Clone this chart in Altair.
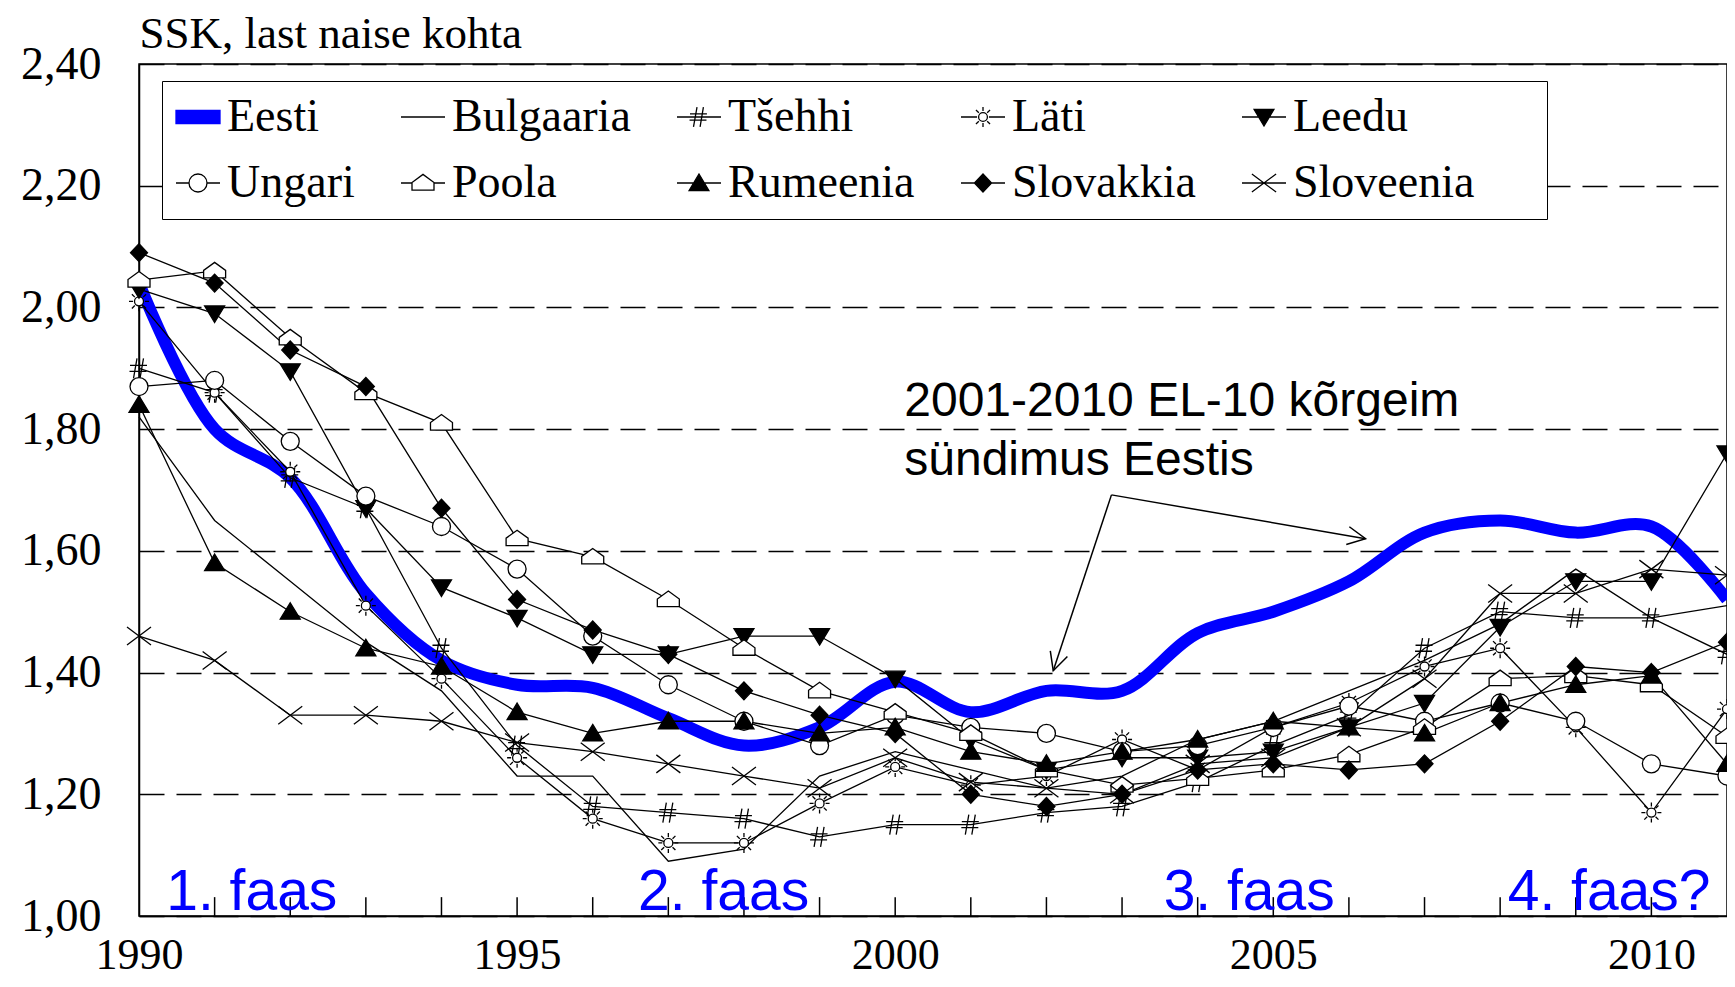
import altair as alt
import pandas as pd

years = list(range(1990, 2012))
series_names = ["Eesti", "Bulgaaria", "Tšehhi", "Läti", "Leedu",
                "Ungari", "Poola", "Rumeenia", "Slovakkia", "Sloveenia"]

eesti = [2.04, 1.80, 1.72, 1.53, 1.42, 1.38, 1.375, 1.325, 1.28, 1.31, 1.385,
         1.335, 1.37, 1.37, 1.465, 1.50, 1.55, 1.63, 1.65, 1.63, 1.64, 1.52]
bulgaaria = [1.82, 1.65, 1.55, 1.45, 1.37, 1.23, 1.23, 1.09, 1.11, 1.23, 1.27,
             1.24, 1.21, 1.23, 1.29, 1.32, 1.37, 1.42, 1.48, 1.57, 1.49, 1.51]
tsehhi = [1.90, 1.86, 1.72, 1.67, 1.44, 1.28, 1.18, 1.17, 1.16, 1.13, 1.15,
          1.15, 1.17, 1.18, 1.22, 1.28, 1.33, 1.44, 1.50, 1.49, 1.49, 1.43]
lati = [2.01, 1.86, 1.73, 1.51, 1.39, 1.26, 1.16, 1.12, 1.12, 1.185, 1.245,
        1.215, 1.23, 1.29, 1.24, 1.31, 1.35, 1.41, 1.44, 1.31, 1.17, 1.34]
leedu = [2.03, 1.99, 1.895, 1.67, 1.54, 1.49, 1.43, 1.43, 1.46, 1.46, 1.39,
         1.29, 1.24, 1.26, 1.26, 1.27, 1.31, 1.35, 1.475, 1.55, 1.55, 1.76]
ungari = [1.87, 1.88, 1.78, 1.69, 1.64, 1.57, 1.46, 1.38, 1.32, 1.28, 1.33,
          1.31, 1.30, 1.27, 1.28, 1.31, 1.345, 1.32, 1.35, 1.32, 1.25, 1.23]
poola = [2.045, 2.06, 1.95, 1.86, 1.81, 1.62, 1.59, 1.52, 1.44, 1.37, 1.335,
         1.30, 1.24, 1.215, 1.226, 1.24, 1.265, 1.31, 1.39, 1.395, 1.38, 1.295]
rumeenia = [1.84, 1.58, 1.50, 1.44, 1.41, 1.335, 1.30, 1.32, 1.32, 1.30, 1.31,
            1.27, 1.25, 1.27, 1.29, 1.32, 1.31, 1.30, 1.35, 1.38, 1.395, 1.25]
slovakkia = [2.09, 2.04, 1.93, 1.87, 1.67, 1.52, 1.47, 1.43, 1.37, 1.33, 1.30,
             1.20, 1.18, 1.20, 1.24, 1.25, 1.24, 1.25, 1.32, 1.41, 1.40, 1.45]
sloveenia = [1.46, 1.42, 1.33, 1.33, 1.32, 1.285, 1.27, 1.25, 1.23, 1.21, 1.26,
             1.22, 1.21, 1.20, 1.25, 1.26, 1.31, 1.39, 1.53, 1.53, 1.57, 1.56]

series_values = [eesti, bulgaaria, tsehhi, lati, leedu,
                 ungari, poola, rumeenia, slovakkia, sloveenia]

y_ticks = [1.0, 1.2, 1.4, 1.6, 1.8, 2.0, 2.2, 2.4]
x_labels = [1990, 1995, 2000, 2005, 2010]
tick_years = list(range(1991, 2011))

phase_text = ["1. faas", "2. faas", "3. faas", "4. faas?"]
phase_x = [1990.36, 1996.6, 2003.55, 2008.1]
phase_y = [1.01, 1.01, 1.01, 1.01]

note_text = ["2001-2010 EL-10 kõrgeim", "sündimus Eestis"]
note_x = [2000.12, 2000.12]
note_y = [1.821, 1.725]

arrow_x1 = [2002.86, 2002.86]
arrow_y1 = [1.692, 1.692]
arrow_x2 = [2006.22, 2002.09]
arrow_y2 = [1.62, 1.403]
arrow_angle = [99.8, 198.2]

circ = lambda r: f"M{r},0A{r},{r} 0 1,1 -{r},0A{r},{r} 0 1,1 {r},0Z"
sun = (circ(0.45) + "M0,-0.6L0,-1M0,0.6L0,1M0.6,0L1,0M-0.6,0L-1,0"
       "M0.42,0.42L0.71,0.71M-0.42,-0.42L-0.71,-0.71M0.42,-0.42L0.71,-0.71M-0.42,0.42L-0.71,0.71")
point_shapes = [
    "circle",
    "circle",
    "M-0.2,-1L-0.55,1M0.45,-1L0.1,1M-0.9,-0.3L0.8,-0.3M-0.95,0.3L0.75,0.3",
    sun,
    "M0,0.9L1,-0.75L-1,-0.75Z",
    circ(0.9),
    "M-1.1,0.7L1.1,0.7L1.1,-0.05L0,-0.85L-1.1,-0.05Z",
    "M0,-0.9L1,0.75L-1,0.75Z",
    "M0,-0.9L0.85,0L0,0.9L-0.85,0Z",
    "M-1.2,-0.9L1.2,0.9M-1.2,0.9L1.2,-0.9",
]
point_fills = ["white", "white", "white", "white", "black",
               "white", "white", "black", "black", "white"]

lsun = ("M-1,0H-0.45M0.45,0H1" + circ(0.2) +
        "M0,-0.27L0,-0.45M0,0.27L0,0.45M0.27,0L0.45,0M-0.27,0L-0.45,0"
        "M0.19,0.19L0.32,0.32M-0.19,-0.19L-0.32,-0.32M0.19,-0.19L0.32,-0.32M-0.19,0.19L-0.32,0.32")
legend_shapes = [
    "M-1,-0.3H1V0.3H-1Z",
    "M-1,0H1",
    "M-1,0H1M-0.09,-0.45L-0.25,0.45M0.2,-0.45L0.05,0.45M-0.41,-0.14L0.36,-0.14M-0.43,0.14L0.34,0.14",
    lsun,
    "M-1,0H1M0,0.41L0.45,-0.34L-0.45,-0.34Z",
    "M-1,0H-0.41M0.41,0H1" + circ(0.41),
    "M-1,0H-0.5M0.5,0H1M-0.5,0.32L0.5,0.32L0.5,-0.02L0,-0.39L-0.5,-0.02Z",
    "M-1,0H1M0,-0.41L0.45,0.34L-0.45,0.34Z",
    "M-1,0H1M0,-0.41L0.39,0L0,0.41L-0.39,0Z",
    "M-1,0H1M-0.55,-0.41L0.55,0.41M-0.55,0.41L0.55,-0.41",
]
legend_fills = ["#0000FF", "white", "white", "white", "black",
                "white", "white", "black", "black", "white"]
legend_strokes = ["#0000FF"] + ["black"] * 9

rows = []
for name, vals in zip(series_names, series_values):
    for yr, v in zip(years, vals):
        rows.append({"series": name, "year": yr, "value": v})
df = pd.DataFrame(rows)

serif = "Liberation Serif"
sans = "Liberation Sans"

xscale = alt.Scale(domain=[1990, 2011], nice=False, zero=False)
yscale = alt.Scale(domain=[1.0, 2.4], nice=False, zero=False)
xaxis = alt.Axis(values=x_labels, format="d", labelFont=serif, labelFontSize=44,
                 labelColor="black", labelPadding=17, ticks=False, tickSize=0,
                 grid=False, domainColor="black", domainWidth=1.5, labelFlush=False)
yaxis = alt.Axis(values=y_ticks, labelExpr="replace(format(datum.value, '.2f'), '.', ',')",
                 labelFont=serif, labelFontSize=46, labelColor="black", labelPadding=38,
                 ticks=False, tickSize=0, grid=True, gridColor="black", gridDash=[25, 12],
                 gridWidth=1.3, domainColor="black", domainWidth=1.5,
                 title="SSK, last naise kohta", titleAngle=0, titleAlign="left",
                 titleBaseline="alphabetic", titleX=0, titleY=-17, titleFont=serif,
                 titleFontSize=45, titleFontWeight="normal", titleColor="black")

X = alt.X("year:Q", scale=xscale, axis=xaxis, title=None)
Y = alt.Y("value:Q", scale=yscale, axis=yaxis, title="SSK, last naise kohta")

base = alt.Chart(df)

eesti_line = base.transform_filter("datum.series == 'Eesti'").mark_line(
    color="#0000FF", strokeWidth=12, interpolate="catmull-rom").encode(x=X, y=Y)

other_lines = base.transform_filter("datum.series != 'Eesti'").mark_line(
    color="black", strokeWidth=1.3).encode(x=X, y=Y, detail="series:N")

points = base.transform_filter(
    "datum.series != 'Eesti' && datum.series != 'Bulgaaria'").mark_point(
    filled=True, opacity=1, size=400, strokeWidth=1.3, stroke="black").encode(
    x=X, y=Y,
    shape=alt.Shape("series:N", scale=alt.Scale(domain=series_names, range=point_shapes), legend=None),
    fill=alt.Fill("series:N", scale=alt.Scale(domain=series_names, range=point_fills), legend=None),
)

tick_df = pd.DataFrame({"year": tick_years, "value": [1.0] * len(tick_years),
                        "value2": [1.031] * len(tick_years)})
ticks = alt.Chart(tick_df).mark_rule(color="black", strokeWidth=1.5).encode(
    x=X, y=Y, y2="value2:Q")

phase_df = pd.DataFrame({"year": phase_x, "value": phase_y, "text": phase_text})
phases = alt.Chart(phase_df).mark_text(align="left", baseline="alphabetic", font=sans,
                                       fontSize=57, color="#0000FF").encode(
    x=X, y=Y, text="text:N")

note_df = pd.DataFrame({"year": note_x, "value": note_y, "text": note_text})
notes = alt.Chart(note_df).mark_text(align="left", baseline="alphabetic", font=sans,
                                     fontSize=48, color="black").encode(
    x=X, y=Y, text="text:N")

arrow_df = pd.DataFrame({"year": arrow_x1, "value": arrow_y1, "year2": arrow_x2,
                         "value2": arrow_y2, "angle": arrow_angle})
shafts = alt.Chart(arrow_df).mark_rule(color="black", strokeWidth=1.5).encode(
    x=X, y=Y, x2="year2:Q", y2="value2:Q")
heads = alt.Chart(arrow_df).mark_point(
    shape="M-0.5,1L0,0L0.5,1", size=1296, filled=False, stroke="black",
    strokeWidth=1.5, opacity=1).encode(
    x=alt.X("year2:Q", scale=xscale, axis=xaxis, title=None),
    y=alt.Y("value2:Q", scale=yscale, axis=yaxis, title="SSK, last naise kohta"),
    angle=alt.Angle("angle:Q", scale=None))

leg = alt.Legend(orient="none", legendX=23, legendY=17, columns=5, direction="horizontal",
                 title=" ", titleOrient="right", titlePadding=60,
                 labelFont=serif, labelFontSize=46, labelColor="black", labelLimit=500,
                 symbolSize=1936, symbolStrokeWidth=1.3, columnPadding=43, rowPadding=20,
                 padding=13, fillColor="white", strokeColor="black", labelOffset=6)
legend_df = pd.DataFrame({"series": series_names})
legend_layer = alt.Chart(legend_df).transform_filter("datum.series == 'nothing'").mark_point(
    filled=True, opacity=1, strokeWidth=1.3).encode(
    shape=alt.Shape("series:N", scale=alt.Scale(domain=series_names, range=legend_shapes), legend=leg),
    fill=alt.Fill("series:N", scale=alt.Scale(domain=series_names, range=legend_fills), legend=leg),
    stroke=alt.Stroke("series:N", scale=alt.Scale(domain=series_names, range=legend_strokes), legend=leg),
)

chart = alt.layer(eesti_line, other_lines, points, ticks, phases, notes, shafts, heads,
                  legend_layer).resolve_scale(
    shape="independent", fill="independent", stroke="independent"
).properties(
    width=1588, height=852,
    padding={"left": 131, "top": 56, "right": 0, "bottom": 63},
    autosize=alt.AutoSizeParams(type="none"),
    background="white",
).configure_view(stroke="black", strokeWidth=1.5)

chart.save("out.html", embed_options={"renderer": "svg", "actions": False})
